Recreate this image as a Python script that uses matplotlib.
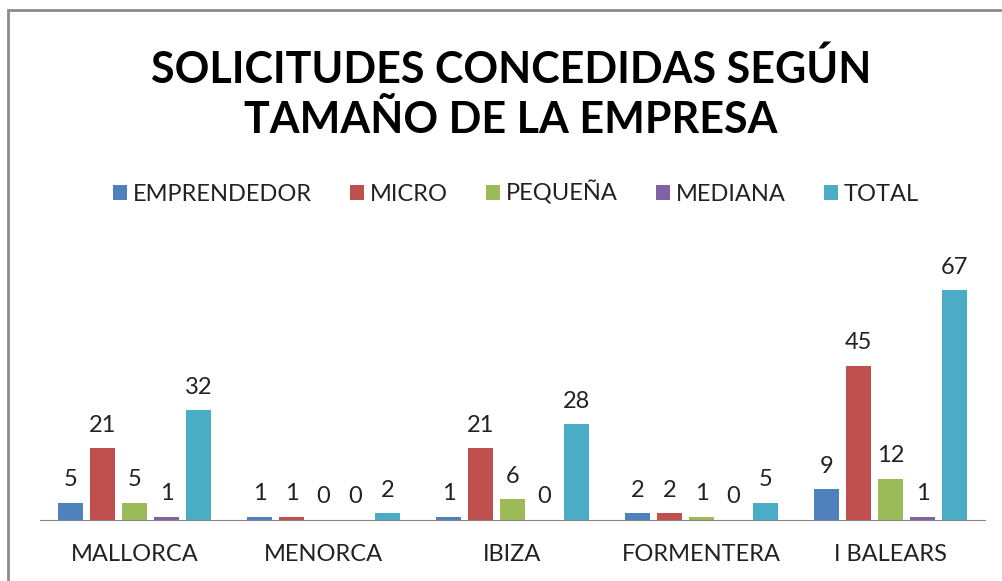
# Solicitudes concedidas según tamaño de la empresa

import matplotlib.pyplot as plt
from matplotlib.patches import Rectangle
import numpy as np

# datos
islas = ['MALLORCA', 'MENORCA', 'IBIZA', 'FORMENTERA', 'I BALEARS']
emprendedor = [5, 1, 1, 2, 9]
micro = [21, 1, 21, 2, 45]
pequena = [5, 0, 6, 1, 12]
mediana = [1, 0, 0, 0, 1]
total = [32, 2, 28, 5, 67]

series = ['EMPRENDEDOR', 'MICRO', 'PEQUEÑA', 'MEDIANA', 'TOTAL']
colores = ['#4F81BD', '#C0504D', '#9BBB59', '#8064A2', '#4BACC6']

plt.rcParams['font.family'] = ['Lato', 'DejaVu Sans']

fig = plt.figure(figsize=(10.02, 5.81), dpi=100)
ax = fig.add_axes([0.04, 0.105, 0.943, 0.472])

# marco gris de la figura
fig.patches.append(Rectangle((0.008, -0.1), 1.2, 1.083, transform=fig.transFigure,
                             fill=False, edgecolor='#8c8c8c', linewidth=2))

x = np.arange(len(islas))
w = 0.132     # ancho barra
paso = 0.169  # separación entre barras

for j, (nombre, vals) in enumerate(zip(series, [emprendedor, micro, pequena, mediana, total])):
    pos = x + (j - 2) * paso
    barras = ax.bar(pos, vals, width=w, color=colores[j], label=nombre)
    ax.bar_label(barras, labels=[str(v) for v in vals], padding=9, fontsize=17, color='#222222')

ax.set_xlim(-0.5, len(islas) - 0.5)
ax.set_ylim(0, 80)
ax.set_xticks(x)
ax.set_xticklabels(islas, fontsize=17, color='#222222')
ax.tick_params(axis='x', length=0, pad=17)

# no mostrar ejes
ax.yaxis.set_visible(False)
for s in ['left', 'top', 'right']:
    ax.spines[s].set_visible(False)
ax.spines['bottom'].set_color('#888888')

fig.text(0.51, 0.838, 'SOLICITUDES CONCEDIDAS SEGÚN\nTAMAÑO DE LA EMPRESA', ha='center', va='center',
         fontsize=31, fontweight='bold', linespacing=1.3, color='black')

fig.legend(loc='center', bbox_to_anchor=(0.515, 0.668), ncol=5, frameon=False, fontsize=17,
           handlelength=0.6, handleheight=0.6, handletextpad=0.25, columnspacing=1.6,
           labelcolor='#222222')

plt.savefig('out.png', dpi=100)
